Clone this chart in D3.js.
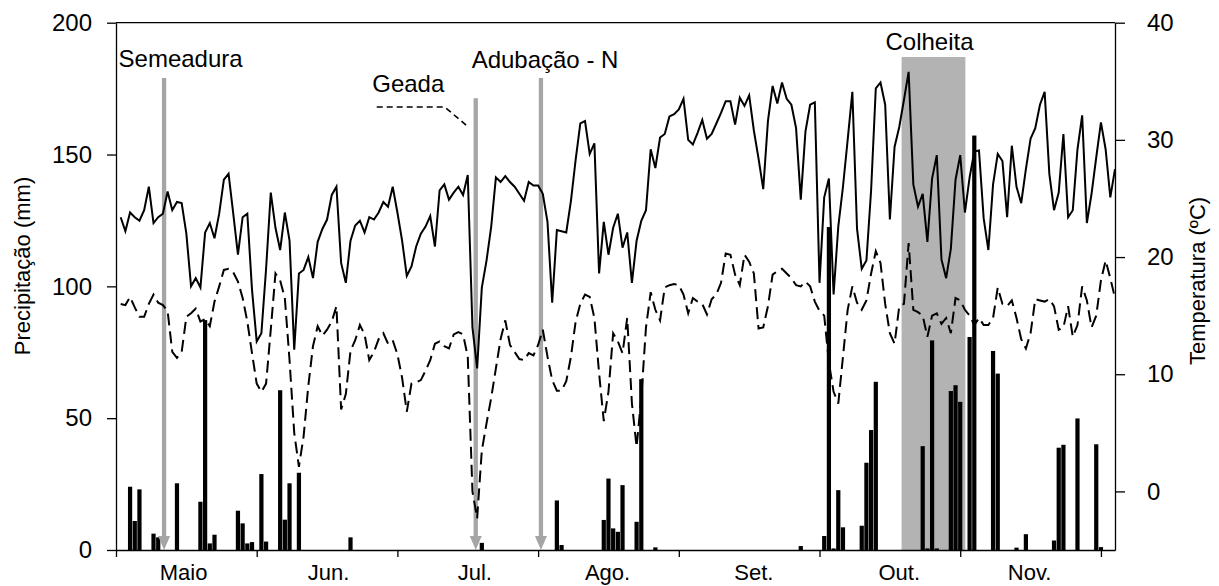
<!DOCTYPE html>
<html><head><meta charset="utf-8">
<script src="https://cdn.jsdelivr.net/npm/d3@7"></script>
<style>
body{margin:0;background:#fff}
text{font-family:"Liberation Sans",Arial,Helvetica,sans-serif;fill:#000}
</style>
</head><body>
<svg id="chart" width="1219" height="586"></svg>
<script>
// ---- data (one value per day, index 0 = first day) ----
const tmax = [23.4,22.2,23.8,23.4,23.1,24.0,26.0,22.9,23.4,23.7,25.6,24.0,24.7,24.6,22.0,17.5,18.2,17.4,22.1,22.9,
21.6,23.7,26.6,27.1,23.7,20.2,23.4,23.7,17.2,12.8,13.5,19.0,25.5,22.5,20.6,23.8,21.4,12.1,18.6,18.9,
20.0,18.2,21.3,22.4,23.2,25.3,26.0,19.5,17.8,21.4,22.7,23.1,22.1,23.4,23.2,23.8,24.7,24.3,26.0,23.8,
21.4,18.4,19.2,20.9,22.0,22.6,23.5,20.9,25.7,26.2,24.9,25.5,26.0,25.3,27.0,14.0,10.5,17.4,19.7,22.6,
26.8,26.4,26.9,26.4,26.0,25.4,24.8,26.4,26.1,26.1,25.4,23.0,16.1,22.3,22.2,22.1,24.8,28.3,31.4,31.6,
28.8,29.7,18.6,23.0,20.2,22.5,23.7,20.8,22.1,17.8,21.4,23.1,24.0,29.2,27.6,30.2,30.5,32.0,32.2,32.6,
33.5,30.0,29.6,30.6,31.7,30.1,30.5,31.4,32.3,33.3,33.3,31.3,33.6,32.9,33.8,30.8,28.4,25.8,31.6,34.6,
33.1,34.9,33.5,33.0,31.0,24.9,30.7,33.0,33.2,17.8,25.1,26.7,16.8,22.6,26.0,30.0,34.1,22.4,19.0,19.7,
25.7,34.4,34.9,33.0,23.2,29.4,31.1,33.4,35.8,26.2,24.3,25.4,21.3,26.7,28.7,19.8,18.2,20.7,26.6,28.7,
23.8,26.8,29.0,29.1,23.3,20.6,26.2,28.8,28.2,23.4,29.5,26.0,24.6,27.5,30.1,31.0,33.0,34.1,27.1,24.0,
25.5,30.5,23.4,24.0,29.2,32.1,22.9,25.4,28.5,31.5,29.2,25.1,27.5];

const tmin = [16.0,15.9,16.6,15.7,14.9,14.9,16.0,16.8,16.1,15.9,15.4,11.9,11.4,11.9,14.9,15.2,15.6,14.5,14.7,14.1,
16.2,17.5,18.9,19.0,18.7,17.9,16.5,14.5,11.8,9.2,8.5,9.2,13.8,18.6,18.0,16.5,11.2,5.0,2.1,4.7,
9.0,12.4,14.1,13.3,13.8,14.5,15.8,7.0,8.3,12.0,12.9,14.2,13.4,11.2,11.9,13.0,13.5,12.6,12.9,11.7,
9.7,6.8,9.2,9.3,9.5,10.3,11.2,12.6,12.8,12.4,12.2,13.4,13.6,13.4,11.5,0.0,-2.3,3.5,5.8,8.0,
10.5,13.0,14.6,12.5,11.9,11.3,11.2,11.8,11.6,12.5,13.8,11.5,9.5,8.6,8.6,9.4,11.5,14.5,16.0,16.8,
16.6,14.8,10.1,6.0,8.5,13.5,12.8,11.8,14.8,7.5,3.8,8.0,14.0,17.0,15.5,14.6,17.4,17.6,17.7,17.6,
16.8,15.2,16.5,16.2,16.0,15.1,16.4,16.8,17.8,20.3,20.2,18.5,17.6,20.2,19.6,18.6,13.9,14.0,15.8,18.5,
18.8,19.0,18.6,18.2,17.6,17.5,17.9,17.5,16.2,15.4,15.0,11.0,8.5,7.5,11.5,15.5,17.5,16.1,15.5,16.3,
18.6,20.5,19.5,16.0,13.5,12.6,15.8,16.0,21.2,15.5,15.3,15.0,13.2,15.0,15.2,14.3,14.8,13.5,16.5,16.3,
15.5,15.0,14.2,14.8,14.2,14.2,14.8,17.4,16.0,15.8,16.3,14.8,13.0,12.2,13.5,16.4,16.3,16.2,16.4,15.8,
13.8,14.0,15.8,13.2,14.2,17.5,16.3,14.0,15.0,18.0,19.7,18.2,16.5];

const precip = [0,0,24.0,11.0,23.0,0,0,6.2,4.8,0,0,0,25.3,0,0,0,0,18.3,87.2,2.5,
5.8,0,0,0,0,14.9,10.1,2.5,3.0,0,28.8,3.2,0,0,60.6,11.5,25.3,0,29.3,0,
0,0,0,0,0,0,0,0,0,4.8,0,0,0,0,0,0,0,0,0,0,
0,0,0,0,0,0,0,0,0,0,0,0,0,0,0,0,0,2.7,0,0,
0,0,0,0,0,0,0,0,0,0,0,0,0,18.8,1.9,0,0,0,0,0,
0,0,0,11.4,27.1,8.2,6.9,24.6,0,0,10.7,64.8,0,0,1.0,0,0,0,0,0,
0,0,0,0,0,0,0,0,0,0,0,0,0,0,0,0,0,0,0,0,
0,0,0,0,0,1.5,0,0,0,0,5.3,122.5,0.6,22.7,8.6,0,0,0,9.2,33.1,
45.5,63.8,0,0,0,0,0,0,0,0,0,39.4,0.6,79.5,0.6,0,0,60.3,62.5,56.2,
0,80.8,157.2,0,0,0,75.5,66.9,0,0,0,0.9,0,6.0,0,0,0,0,0,3.6,
38.8,39.9,0,0,49.9,0,0,0,40.1,1.1,0,0,0];

const monthLabels = ["Maio","Jun.","Jul.","Ago.","Set.","Out.","Nov."];
const monthCenters = [13.4,44.3,75.5,103.8,135.0,166.0,193.8];   // day position of each month label
const xTickDays = [-1,29,59,89,119,149,179,209];
const precipTicks = [0,50,100,150,200];
const tempTicks = [0,10,20,30,40];
const events = [
  {name:"Semeadura", day:9.25, top:179},
  {name:"Geada", day:75.7, top:171.3},
  {name:"Adubação - N", day:89.6, top:179}
];
const harvest = {name:"Colheita", start:166.5, end:180.1, top:187};

// ---- layout ----
const L=116, R=1115, T=22.7, B=550;
const svg = d3.select("#chart");
const x = d3.scaleLinear().domain([-1,212]).range([L,R]);
const yP = d3.scaleLinear().domain([0,200]).range([B,T]);
const yT = d3.scaleLinear().domain([-5,40]).range([B,T]);
const days = d3.range(tmax.length);
const bw = (x(1)-x(0))*0.9;

// harvest band
svg.append("rect")
  .attr("x", x(harvest.start)).attr("y", yP(harvest.top))
  .attr("width", x(harvest.end)-x(harvest.start)).attr("height", yP(0)-yP(harvest.top))
  .attr("fill","#b3b3b3");
svg.append("text").attr("x",(x(harvest.start)+x(harvest.end))/2 - 4).attr("y",49.5)
  .attr("text-anchor","middle").attr("font-size",24).text(harvest.name);

// precipitation bars
svg.append("g").selectAll("rect").data(days.filter(i=>precip[i]>0)).join("rect")
  .attr("x", i=>x(i)-bw/2).attr("width", bw)
  .attr("y", i=>yP(precip[i])).attr("height", i=>yP(0)-yP(precip[i]))
  .attr("fill","#000");

// event arrows
const gray="#a5a5a5";
events.forEach(e=>{
  const cx = x(e.day);
  svg.append("line").attr("x1",cx).attr("x2",cx).attr("y1",yP(e.top)).attr("y2",yP(0)-13)
    .attr("stroke",gray).attr("stroke-width",4.3);
  svg.append("path").attr("d",`M${cx-6},${yP(0)-14}L${cx+6},${yP(0)-14}L${cx},${yP(0)}Z`).attr("fill",gray);
});
const ex = events.map(e=>x(e.day));
svg.append("text").attr("x",ex[0]-45.5).attr("y",67).attr("font-size",24).text(events[0].name);
svg.append("text").attr("x",ex[1]-103.5).attr("y",91.5).attr("font-size",24).text(events[1].name);
svg.append("text").attr("x",ex[2]-69.3).attr("y",68).attr("font-size",24).text(events[2].name);
svg.append("path").attr("d",`M${ex[1]-99},107L${ex[1]-31},107L${ex[1]-8},126.5`)
  .attr("fill","none").attr("stroke","#000").attr("stroke-width",1.6).attr("stroke-dasharray","6,4");

// temperature lines
const lineMax = d3.line().x(i=>x(i)).y(i=>yT(tmax[i]));
const lineMin = d3.line().x(i=>x(i)).y(i=>yT(tmin[i]));
svg.append("path").attr("d",lineMax(days)).attr("fill","none").attr("stroke","#000")
  .attr("stroke-width",2).attr("stroke-linejoin","miter");
svg.append("path").attr("d",lineMin(days)).attr("fill","none").attr("stroke","#000")
  .attr("stroke-width",2).attr("stroke-dasharray","12,6");

// axes
const axStyle = g=>{
  g.selectAll("path,line").attr("stroke","#000").attr("stroke-width",1.3);
  g.selectAll("text").attr("font-size",24).attr("fill","#000")
   .attr("font-family","'Liberation Sans',Arial,sans-serif");
};
svg.append("g").attr("transform",`translate(${L},0)`)
  .call(d3.axisLeft(yP).tickValues(precipTicks).tickSize(9).tickPadding(15).tickSizeOuter(0)).call(axStyle);
svg.append("g").attr("transform",`translate(${R},0)`)
  .call(d3.axisRight(yT).tickValues(tempTicks).tickSize(10).tickPadding(22).tickSizeOuter(0)).call(axStyle);
svg.append("g").attr("transform",`translate(0,${B})`)
  .call(d3.axisBottom(x).tickValues(xTickDays).tickSize(7).tickFormat("").tickSizeOuter(0)).call(axStyle);
svg.append("line").attr("x1",L).attr("x2",R).attr("y1",T).attr("y2",T).attr("stroke","#000").attr("stroke-width",1.3);

// month labels
svg.append("g").selectAll("text").data(monthLabels).join("text")
  .attr("x",(d,i)=>x(monthCenters[i])).attr("y",580).attr("text-anchor","middle")
  .attr("font-size",22).text(d=>d);

// axis titles
svg.append("text").attr("transform","translate(30,266) rotate(-90)").attr("text-anchor","middle")
  .attr("font-size",22).text("Precipitação (mm)");
svg.append("text").attr("transform","translate(1205,281) rotate(-90)").attr("text-anchor","middle")
  .attr("font-size",22).text("Temperatura (ºC)");
</script>
</body></html>
